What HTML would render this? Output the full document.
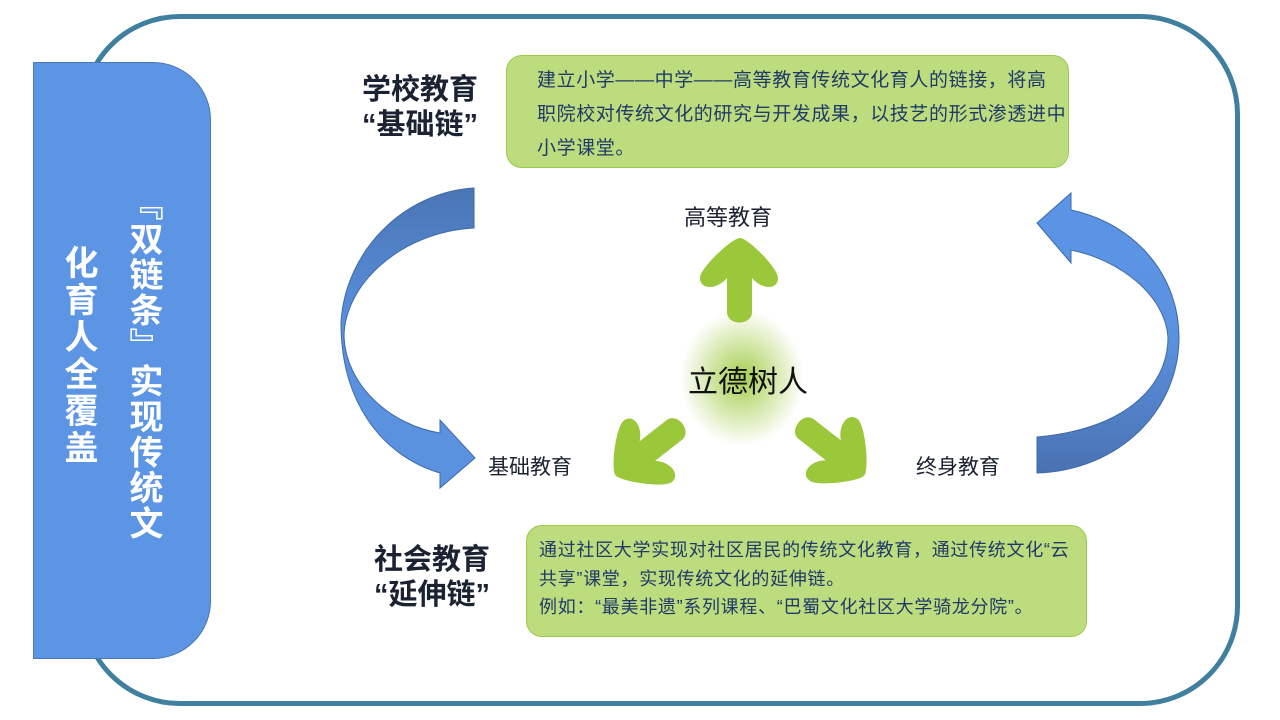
<!DOCTYPE html>
<html><head><meta charset="utf-8"><style>
html,body{margin:0;padding:0;background:#fff;width:1280px;height:720px;overflow:hidden;position:relative;font-family:"Liberation Sans","Noto Sans CJK SC",sans-serif}
.abs{position:absolute}
.outer{left:80px;top:14px;width:1150px;height:682px;border:5px solid #3f809f;border-radius:100px}
.panel{left:33px;top:62px;width:176px;height:595px;background:#5b95e3;border:1px solid #4a78b8;border-radius:0 58px 58px 0}
.vt{color:#fff;font-weight:bold;font-size:34px;line-height:40px;writing-mode:vertical-rl;white-space:nowrap}
.lab{color:#1b2231;font-weight:bold;font-size:29px;line-height:35px;text-align:center}
.box{background:#bddc7d;border:1px solid #9bc94b;border-radius:16px;color:#1f3a6a;box-sizing:border-box;white-space:nowrap}
.t{font-size:22px;color:#1b2231}
</style></head><body>
<div class="abs outer"></div>
<div class="abs panel"></div>
<div class="abs vt" style="left:123px;top:186px;letter-spacing:1.5px">『双链条』实现传统文</div>
<div class="abs vt" style="left:58px;top:245px;letter-spacing:3px">化育人全覆盖</div>

<div class="abs lab" style="left:352px;top:73px;width:136px">学校教育<br>“基础链”</div>
<div class="abs box" style="left:506px;top:55px;width:563px;height:113px;padding:8px 0 0 30px;line-height:34px;font-size:19px;letter-spacing:0.6px">建立小学——中学——高等教育传统文化育人的链接，将高<br>职院校对传统文化的研究与开发成果，以技艺的形式渗透进中<br>小学课堂。</div>

<div class="abs lab" style="left:364px;top:543px;width:136px">社会教育<br>“延伸链”</div>
<div class="abs box" style="left:526px;top:525px;width:561px;height:112px;padding:10px 0 0 12px;line-height:28.5px;font-size:18px;letter-spacing:0.7px">通过社区大学实现对社区居民的传统文化教育，通过传统文化“云<br>共享”课堂，实现传统文化的延伸链。<br>例如：“最美非遗”系列课程、“巴蜀文化社区大学骑龙分院”。</div>

<svg class="abs" style="left:0;top:0" width="1280" height="720">
<defs>
<radialGradient id="g" cx="50%" cy="50%" r="50%"><stop offset="0" stop-color="#9bc93a" stop-opacity=".9"/><stop offset="1" stop-color="#9bc93a" stop-opacity="0"/></radialGradient>
<linearGradient id="lb" x1="0" y1="0" x2="0" y2="1"><stop offset="0" stop-color="#4a75b5"/><stop offset=".5" stop-color="#5b92e0"/><stop offset="1" stop-color="#5b92e0"/></linearGradient>
<linearGradient id="rb" x1="0" y1="0" x2="0" y2="1"><stop offset="0" stop-color="#5b95e6"/><stop offset=".5" stop-color="#5b92e0"/><stop offset="1" stop-color="#4a72b2"/></linearGradient>
</defs>
<ellipse cx="742" cy="378" rx="62" ry="68" fill="url(#g)"/>
<path d="M474,188 L474,228 C400,232 344,285 344,337 C346,385 390,425 440,433 L440,420 L475,458 L440,488 L440,473 C380,455 341,400 341,323 C345,250 405,192 474,188 Z" fill="url(#lb)" stroke="#3d6aa8" stroke-width="1"/>
<path d="M1037,473 L1037,437 C1120,430 1168,390 1168,337 C1165,295 1120,260 1071,250 L1071,263 L1037,223 L1071,193 L1071,210 C1140,225 1179,280 1179,337 C1179,410 1120,470 1037,473 Z" fill="url(#rb)" stroke="#3d6aa8" stroke-width="1"/>
<g fill="#9ac83a">
<path id="ga" d="M740,238 C748,238 778,268 778,278 C778,290 762,290 752,278 L752,312 C752,326 727,326 727,312 L727,278 C717,290 700,290 700,278 C700,268 732,238 740,238 Z"/>
<use href="#ga" transform="rotate(-128 740 378) translate(0 -18)"/>
<use href="#ga" transform="rotate(128 740 378) translate(0 -18)"/>
</g>
</svg>
<div class="abs t" style="left:684px;top:200px">高等教育</div>
<div class="abs t" style="left:488px;top:451px;font-size:21px">基础教育</div>
<div class="abs t" style="left:916px;top:451px;font-size:21px">终身教育</div>
<div class="abs" style="left:688px;top:357px;font-size:30px;color:#111">立德树人</div>
</body></html>
